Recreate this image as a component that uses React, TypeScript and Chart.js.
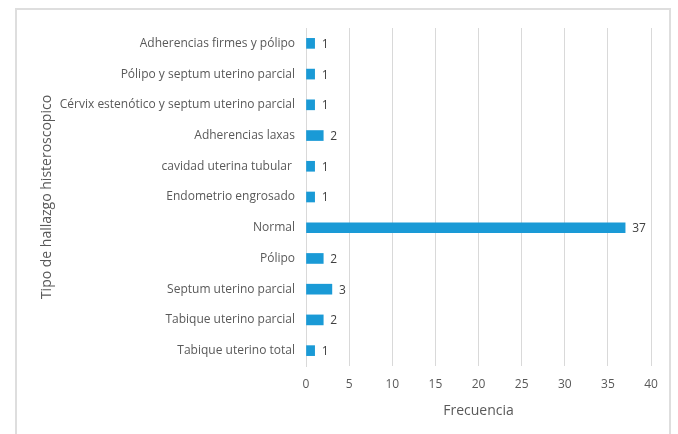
import React, { useEffect, useRef } from "react";
import { Chart, registerables } from "chart.js";

Chart.register(...registerables);

const categories = [
  "Adherencias firmes y pólipo",
  "Pólipo y septum uterino parcial",
  "Cérvix estenótico y septum uterino parcial",
  "Adherencias laxas",
  "cavidad uterina tubular ",
  "Endometrio engrosado",
  "Normal",
  "Pólipo",
  "Septum uterino parcial",
  "Tabique uterino parcial",
  "Tabique uterino total",
];
const frequencies = [1, 1, 1, 2, 1, 1, 37, 2, 3, 2, 1];
const xTicks = [0, 5, 10, 15, 20, 25, 30, 35, 40];

const FONT = "'Open Sans', 'Noto Sans', sans-serif";

const valueLabels = {
  id: "valueLabels",
  afterDatasetsDraw(chart: any) {
    const ctx = chart.ctx;
    const meta = chart.getDatasetMeta(0);
    ctx.save();
    ctx.font = `12px ${FONT}`;
    ctx.fillStyle = "#404040";
    ctx.textAlign = "left";
    ctx.textBaseline = "middle";
    meta.data.forEach((el: any, i: number) => {
      ctx.fillText(String(frequencies[i]), el.x + 7, el.y + 1);
    });
    ctx.restore();
  },
};

export default function App() {
  const ref = useRef<HTMLCanvasElement | null>(null);
  useEffect(() => {
    document.body.style.margin = "0";
    const chart = new Chart(ref.current!, {
      type: "bar",
      data: {
        labels: categories,
        datasets: [
          {
            data: frequencies,
            backgroundColor: "#1a9ad6",
            barThickness: 10,
          },
        ],
      },
      options: {
        indexAxis: "y",
        animation: false,
        responsive: false,
        maintainAspectRatio: false,
        layout: { padding: { left: 39, top: 28, right: 27, bottom: 15 } },
        plugins: {
          legend: { display: false },
          tooltip: { enabled: false },
        },
        scales: {
          x: {
            min: 0,
            max: 40,
            afterBuildTicks(scale: any) {
              scale.ticks = xTicks.map((v) => ({ value: v }));
            },
            afterFit(scale: any) {
              scale.height = 53;
            },
            grid: { color: "#d9d9d9", drawTicks: false },
            border: { display: false },
            ticks: {
              padding: 11,
              color: "#595959",
              font: { family: FONT, size: 12 },
            },
            title: {
              display: true,
              text: "Frecuencia",
              color: "#595959",
              font: { family: FONT, size: 14 },
              padding: { top: 4, bottom: 0 },
            },
          },
          y: {
            afterFit(scale: any) {
              scale.width = 267;
            },
            grid: { display: false, drawTicks: false },
            border: { display: true, color: "#d9d9d9" },
            ticks: {
              padding: 11,
              color: "#595959",
              font: { family: FONT, size: 12 },
            },
            title: {
              display: true,
              text: "Tipo de hallazgo histeroscopico",
              color: "#595959",
              font: { family: FONT, size: 14 },
              padding: 0,
            },
          },
        },
      },
      plugins: [valueLabels],
    });
    return () => chart.destroy();
  }, []);
  return (
    <div style={{ position: "fixed", left: 0, top: 0, width: 678, height: 434, overflow: "hidden", background: "#fff" }}>
      <div
        style={{
          position: "absolute",
          left: 15,
          top: 8,
          width: 656,
          height: 440,
          border: "2px solid #dedede",
          boxSizing: "border-box",
        }}
      />
      <canvas ref={ref} width={678} height={434} style={{ position: "absolute", left: 0, top: 0 }} />
    </div>
  );
}
